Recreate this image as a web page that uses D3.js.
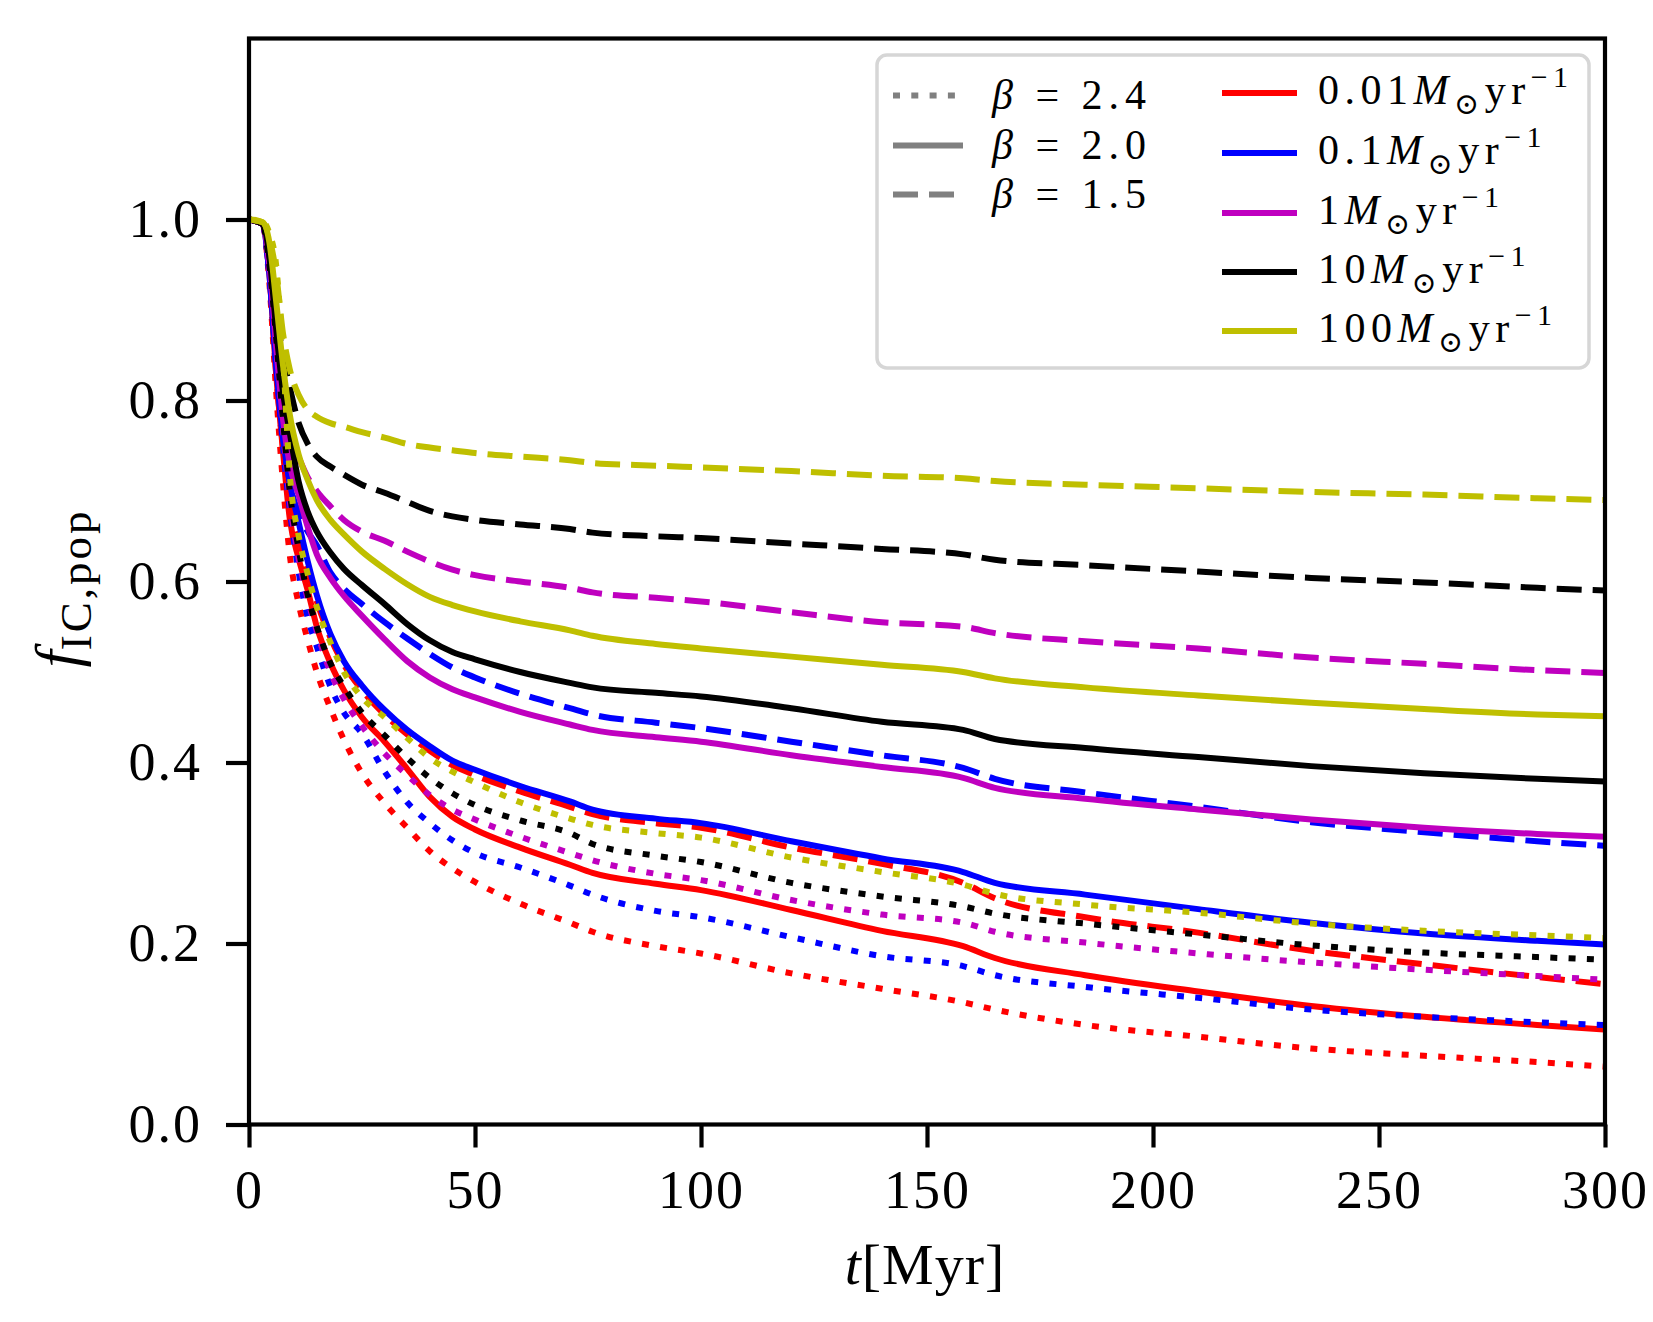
<!DOCTYPE html>
<html>
<head>
<meta charset="utf-8">
<script src="https://cdn.jsdelivr.net/npm/d3@7"></script>
<style>
body { margin: 0; background: #fff; }
svg text { font-family: "Liberation Serif", "DejaVu Serif", serif; fill: #000; }
</style>
</head>
<body>
<svg id="chart" width="1653" height="1322"></svg>
<script>
// time grid (Myr), shared by every curve
const tMyr = [0, 3, 4.5, 6, 7.5, 9, 11, 13, 15, 18, 21, 25, 30, 35, 40, 45, 50, 60, 71, 76, 90, 100, 120, 140, 158, 165, 185, 210, 235, 260, 285, 300]

// f_IC,pop, one array per (SFR, beta)
const r001_b24 = [1.0, 0.995, 0.93, 0.81, 0.71, 0.63, 0.575, 0.535, 0.5, 0.46, 0.425, 0.388, 0.355, 0.328, 0.302, 0.283, 0.268, 0.244, 0.223, 0.213, 0.197, 0.189, 0.167, 0.15, 0.135, 0.127, 0.11, 0.097, 0.084, 0.076, 0.069, 0.064]
const r001_b20 = [1.0, 0.995, 0.94, 0.83, 0.745, 0.67, 0.625, 0.59, 0.55, 0.51, 0.48, 0.45, 0.423, 0.393, 0.362, 0.34, 0.326, 0.306, 0.287, 0.278, 0.266, 0.259, 0.237, 0.214, 0.197, 0.184, 0.165, 0.147, 0.131, 0.119, 0.11, 0.105]
const r001_b15 = [1.0, 0.995, 0.94, 0.83, 0.75, 0.69, 0.648, 0.612, 0.578, 0.538, 0.508, 0.48, 0.453, 0.431, 0.413, 0.397, 0.386, 0.368, 0.351, 0.343, 0.333, 0.328, 0.306, 0.288, 0.267, 0.25, 0.229, 0.212, 0.192, 0.177, 0.163, 0.155]

const r01_b24 = [1.0, 0.995, 0.94, 0.84, 0.75, 0.68, 0.61, 0.56, 0.528, 0.484, 0.455, 0.432, 0.39, 0.356, 0.333, 0.314, 0.3, 0.284, 0.264, 0.254, 0.236, 0.229, 0.207, 0.186, 0.175, 0.165, 0.152, 0.14, 0.127, 0.119, 0.113, 0.11]
const r01_b20 = [1.0, 0.995, 0.94, 0.84, 0.76, 0.71, 0.665, 0.622, 0.585, 0.542, 0.512, 0.485, 0.458, 0.436, 0.418, 0.402, 0.392, 0.374, 0.357, 0.348, 0.338, 0.333, 0.313, 0.294, 0.279, 0.267, 0.254, 0.238, 0.223, 0.211, 0.203, 0.199]
const r01_b15 = [1.0, 0.995, 0.94, 0.84, 0.76, 0.71, 0.675, 0.655, 0.64, 0.61, 0.592, 0.575, 0.555, 0.537, 0.52, 0.505, 0.494, 0.476, 0.46, 0.453, 0.444, 0.438, 0.423, 0.408, 0.394, 0.382, 0.367, 0.351, 0.334, 0.323, 0.313, 0.308]

const r1_b24 = [1.0, 0.995, 0.945, 0.86, 0.77, 0.69, 0.625, 0.58, 0.545, 0.5, 0.47, 0.44, 0.41, 0.386, 0.364, 0.348, 0.337, 0.318, 0.3, 0.292, 0.277, 0.27, 0.248, 0.232, 0.223, 0.213, 0.201, 0.189, 0.179, 0.171, 0.164, 0.16]
const r1_b20 = [1.0, 0.995, 0.95, 0.86, 0.78, 0.73, 0.695, 0.66, 0.63, 0.604, 0.584, 0.562, 0.536, 0.512, 0.494, 0.481, 0.472, 0.456, 0.442, 0.436, 0.428, 0.423, 0.408, 0.395, 0.383, 0.372, 0.36, 0.348, 0.337, 0.328, 0.321, 0.318]
const r1_b15 = [1.0, 0.995, 0.95, 0.87, 0.8, 0.762, 0.737, 0.715, 0.7, 0.683, 0.668, 0.655, 0.645, 0.633, 0.622, 0.613, 0.607, 0.6, 0.593, 0.588, 0.582, 0.578, 0.566, 0.555, 0.55, 0.543, 0.534, 0.526, 0.516, 0.509, 0.502, 0.499]

const r10_b24 = [1.0, 0.995, 0.95, 0.87, 0.78, 0.7, 0.635, 0.585, 0.55, 0.51, 0.484, 0.455, 0.43, 0.405, 0.383, 0.366, 0.353, 0.336, 0.322, 0.31, 0.297, 0.29, 0.267, 0.252, 0.241, 0.233, 0.222, 0.21, 0.198, 0.19, 0.185, 0.182]
const r10_b20 = [1.0, 0.995, 0.96, 0.88, 0.81, 0.765, 0.71, 0.677, 0.655, 0.632, 0.614, 0.596, 0.575, 0.553, 0.535, 0.522, 0.514, 0.5, 0.488, 0.483, 0.477, 0.473, 0.46, 0.445, 0.436, 0.426, 0.416, 0.406, 0.396, 0.388, 0.382, 0.379]
const r10_b15 = [1.0, 0.995, 0.96, 0.9, 0.85, 0.815, 0.775, 0.752, 0.738, 0.727, 0.718, 0.707, 0.698, 0.688, 0.678, 0.672, 0.668, 0.663, 0.658, 0.654, 0.65, 0.648, 0.642, 0.636, 0.63, 0.624, 0.618, 0.611, 0.604, 0.599, 0.593, 0.59]

const r100_b24 = [1.0, 0.998, 0.985, 0.95, 0.85, 0.72, 0.65, 0.608, 0.572, 0.533, 0.5, 0.472, 0.45, 0.427, 0.405, 0.39, 0.378, 0.356, 0.338, 0.331, 0.322, 0.317, 0.295, 0.279, 0.265, 0.255, 0.243, 0.234, 0.222, 0.214, 0.209, 0.206]
const r100_b20 = [1.0, 0.997, 0.975, 0.91, 0.84, 0.785, 0.74, 0.712, 0.69, 0.668, 0.652, 0.633, 0.614, 0.597, 0.583, 0.574, 0.567, 0.556, 0.546, 0.54, 0.531, 0.526, 0.517, 0.508, 0.5, 0.493, 0.483, 0.474, 0.466, 0.459, 0.453, 0.451]
const r100_b15 = [1.0, 0.997, 0.98, 0.94, 0.875, 0.835, 0.806, 0.79, 0.782, 0.775, 0.771, 0.765, 0.759, 0.752, 0.748, 0.745, 0.742, 0.738, 0.734, 0.731, 0.728, 0.726, 0.722, 0.717, 0.714, 0.711, 0.707, 0.703, 0.699, 0.696, 0.692, 0.69]

const rates = ['0.01', '0.1', '1', '10', '100']
const rateColors = ['#ff0000', '#0000ff', '#bf00bf', '#000000', '#bfbf00']
const betas = ['2.4', '2.0', '1.5']
const xTicks = [0, 50, 100, 150, 200, 250, 300]
const yTicks = [0, 0.2, 0.4, 0.6, 0.8, 1.0]

const dashFor = { '2.4': '7 11.3', '2.0': null, '1.5': '25 11' }
const curves = [
    [r001_b24, r001_b20, r001_b15],
    [r01_b24, r01_b20, r01_b15],
    [r1_b24, r1_b20, r1_b15],
    [r10_b24, r10_b20, r10_b15],
    [r100_b24, r100_b20, r100_b15]
]

const svg = d3.select('#chart')
svg.append('rect').attr('width', 1653).attr('height', 1322).attr('fill', '#fff')

const x = d3.scaleLinear().domain([0, 300]).range([249, 1605])
const y = d3.scaleLinear().domain([0, 1.2]).range([1124.5, 38.5])

const lineGen = d3.line()
    .x(d => x(d[0]))
    .y(d => y(d[1]))
    .curve(d3.curveMonotoneX)

// rates outer, beta inner -> same stacking as the original
rates.forEach((rate, i) => {
    betas.forEach((beta, j) => {
        const pts = tMyr.map((t, k) => [t, curves[i][j][k]])
        svg.append('path')
            .datum(pts)
            .attr('d', lineGen)
            .attr('fill', 'none')
            .attr('stroke', rateColors[i])
            .attr('stroke-width', 6)
            .attr('stroke-dasharray', dashFor[beta])
            .attr('stroke-linecap', 'butt')
    })
})

// axes
const xAxis = d3.axisBottom(x).tickValues(xTicks).tickFormat(d3.format('d'))
    .tickSize(23).tickSizeOuter(0).tickPadding(22)
const yAxis = d3.axisLeft(y).tickValues(yTicks).tickFormat(d3.format('.1f'))
    .tickSize(23).tickSizeOuter(0).tickPadding(24)

const gx = svg.append('g').attr('transform', `translate(0,${y(0)})`).call(xAxis)
const gy = svg.append('g').attr('transform', `translate(${x(0)},0)`).call(yAxis)
;[gx, gy].forEach(g => {
    g.select('.domain').remove()
    g.attr('font-family', null).attr('font-size', null)
    g.selectAll('.tick line').attr('stroke', '#000').attr('stroke-width', 4.2)
    g.selectAll('.tick text').attr('font-size', 54).attr('letter-spacing', 2).attr('fill', '#000')
})

svg.append('rect')
    .attr('x', x(0)).attr('y', y(1.2))
    .attr('width', x(300) - x(0)).attr('height', y(0) - y(1.2))
    .attr('fill', 'none').attr('stroke', '#000').attr('stroke-width', 4.2)

// axis labels
const xl = svg.append('text')
    .attr('x', 925).attr('y', 1284)
    .attr('text-anchor', 'middle').attr('font-size', 58).attr('letter-spacing', 1)
xl.append('tspan').attr('font-style', 'italic').text('t')
xl.append('tspan').text('[Myr]')

const yl = svg.append('text')
    .attr('transform', 'translate(78,588) rotate(-90)')
    .attr('text-anchor', 'middle').attr('font-size', 62)
yl.append('tspan').attr('font-style', 'italic').text('f')
yl.append('tspan').attr('font-size', 45).attr('letter-spacing', 3).attr('dy', 13).text('IC,pop')

// legend
const leg = svg.append('g')
leg.append('rect')
    .attr('x', 877).attr('y', 55).attr('width', 712).attr('height', 313)
    .attr('rx', 10).attr('fill', '#fff').attr('stroke', '#d6d6d6').attr('stroke-width', 3.5)

const betaRows = [95.5, 145.5, 194.5]
betas.forEach((beta, j) => {
    leg.append('line')
        .attr('x1', 893).attr('x2', 963).attr('y1', betaRows[j]).attr('y2', betaRows[j])
        .attr('stroke', '#808080').attr('stroke-width', 6)
        .attr('stroke-dasharray', dashFor[beta])
    const tx = leg.append('text')
        .attr('x', 992).attr('y', betaRows[j] + 13)
        .attr('font-size', 42).attr('letter-spacing', 6)
        .attr('xml:space', 'preserve')
    tx.append('tspan').attr('font-style', 'italic').text('β')
    tx.append('tspan').text(' = ' + beta)
})

const rateRows = [93, 153, 213, 272, 331]
rates.forEach((rate, i) => {
    leg.append('line')
        .attr('x1', 1222).attr('x2', 1297).attr('y1', rateRows[i]).attr('y2', rateRows[i])
        .attr('stroke', rateColors[i]).attr('stroke-width', 6)
    const tx = leg.append('text')
        .attr('x', 1318).attr('y', rateRows[i] + 11)
        .attr('font-size', 42).attr('letter-spacing', 5.5)
    tx.append('tspan').text(rate)
    tx.append('tspan').attr('font-style', 'italic').text('M')
    tx.append('tspan').attr('font-size', 30).attr('dy', 10).text('⊙')
    tx.append('tspan').attr('dy', -10).text('yr')
    tx.append('tspan').attr('font-size', 30).attr('dy', -17).text('−1')
})
</script>
</body>
</html>
